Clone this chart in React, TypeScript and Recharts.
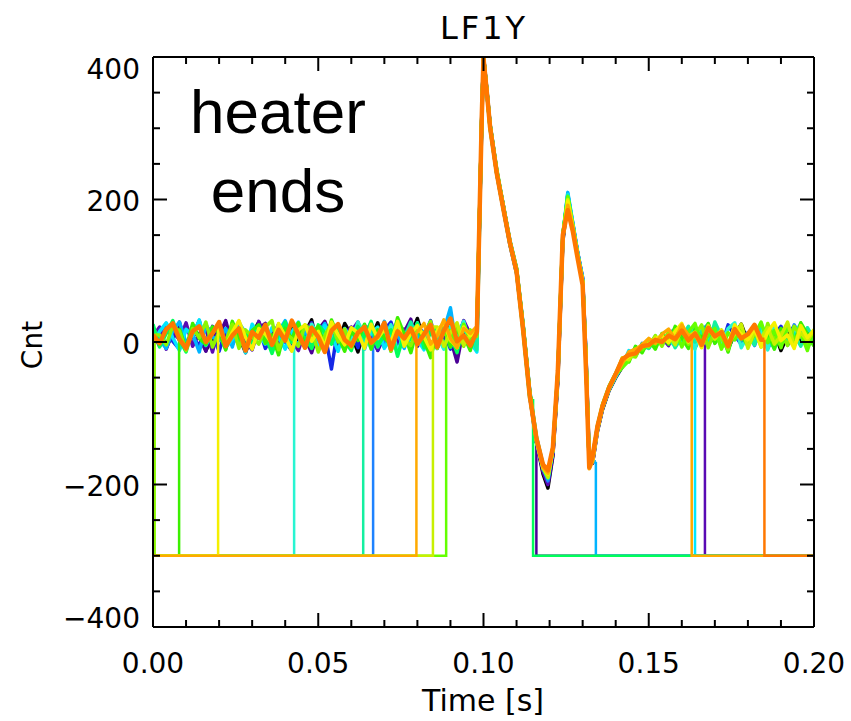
import { LineChart, Line, XAxis, YAxis } from 'recharts';

// sample times [s]: 2 ms steps, finer through the pulse
const times = [
  0, 0.002, 0.004, 0.006, 0.008, 0.010, 0.012, 0.014, 0.016, 0.018,
  0.020, 0.022, 0.024, 0.026, 0.028, 0.030, 0.032, 0.034, 0.036, 0.038,
  0.040, 0.042, 0.044, 0.046, 0.048, 0.050, 0.052, 0.054, 0.056, 0.058,
  0.060, 0.062, 0.064, 0.066, 0.068, 0.070, 0.072, 0.074, 0.076, 0.078,
  0.080, 0.082, 0.084, 0.086, 0.088, 0.090, 0.092, 0.094, 0.096, 0.098,
  0.0995, 0.1000, 0.1010, 0.1020, 0.1040, 0.1060, 0.1080, 0.1100, 0.1120, 0.1140,
  0.1160, 0.1180, 0.1195, 0.1210, 0.1225, 0.1240, 0.1255, 0.1270, 0.1285, 0.1300,
  0.1310, 0.1320, 0.1330, 0.1345, 0.1360, 0.1380, 0.1400,
  0.142, 0.144, 0.146, 0.148, 0.150, 0.152, 0.154, 0.156, 0.158, 0.160,
  0.162, 0.164, 0.166, 0.168, 0.170, 0.172, 0.174, 0.176, 0.178, 0.180,
  0.182, 0.184, 0.186, 0.188, 0.190, 0.192, 0.194, 0.196, 0.198, 0.200,
];

// value written outside a trace's recorded window
const FLAG = -300;

const blackVals = [
  5, 18, -8, 12, 25, -3, 9, 30, -12, 6, 15, -5, 22, 8, -15, 11, 28, 2, -9, 17,
  4, 24, -6, 13, 31, -10, 7, 19, -2, 26, 10, -14, 16, 5, 27, -7, 12, 21, -4, 9,
  33, 1, -11, 18, 6, 24, -8, 14, 3, 12,
  320, 402, 355, 305, 240, 192, 140, 102, 22, -70, -140, -185, -205, -160, -55, 140, 200, 165, 125, 88,
  -20, -165, -170, -125, -95, -68, -50,
  -35, -20, -18, -4, -8, 6, -2, 10, 2, 15, -6, 12, 20, -3, 8, 16, -10, 11, 25, 0,
  7, 19, -5, 14, -12, 9, 22, -1, 13, 4,
];
const indigoVals = [
  12, -6, 20, 3, 28, -9, 15, 7, -13, 22, 9, 30, -4, 16, 1, -11, 19, 26, -7, 10,
  13, -2, 24, 6, -15, 17, 29, 4, -8, 12, 21, -5, 11, 27, -12, 8, 18, -3, 14, 32,
  -6, 10, 23, -9, 15, 5, -28, 20, -1, 11,
  310, 398, 352, 300, 236, 186, 136, 96, 18, -76, -142,
];
const blueVals = [
  -4, 14, 26, 1, -10, 19, 8, -6, 23, 11, -13, 16, 4, 29, -2, 12, 20, -9, 7, 25,
  0, -12, 18, 9, 27, -5, 13, -38, 21, 6, 15, -8, 24, 3, -11, 17, 28, -1, 10, -7,
  19, 8, 30, -4, 13, -10, 22, 5, 16, -3,
  325, 400, 352, 304, 238, 190, 140, 100, 20, -74, -138, -178, -198, -155, -48, 145, 205, 162, 122, 84,
  -30, -175, -165, -120, -92, -66, -48,
  -30, -24, -10, -9, 2, -5, 8, -2, 14, 5, 20, -8, 11, 3, 17, -6, 24, 9, -3, 13,
  1, 18, -9, 10, 22, -4, 6, 15, -7, 11,
];
const violetVals = [
  8, 21, -10, 16, 3, 27, -6, 12, 19, -14, 24, 5, -2, 18, 10, -9, 29, 7, 14, -5,
  22, 1, -12, 17, 26, -3, 11, 20, 6, -8, 15, 28, -4, 9, -10, 23, 13, 2, 18, -6,
  25, 8, -13, 16, 4, 21, -2, 30, 11, 7,
  321, 402, 354, 304, 241, 190, 141, 102, 22, -72, -140, -182, -200, -158, -50, 143, 206, 167, 125, 90,
  -15, -165, -170, -124, -94, -67, -49,
  -34, -21, -12, -8, -1, 2, 6, -5, 16, 8, -3, 20, 12,
];
const dodgerVals = [
  14, -6, 21, 8, -3, 26, 11, -9, 17, 4, 23, -2, 12, 28, -5, 9,
  318, 400, 350, 302, 237, 188, 139, 99, 16, -77, -137, -176, -195, -150, -45, 148, 208, 163, 121, 85,
  -25, -172, -162, -118, -90, -64, -46,
  -28, -15, -20, -2, -6, 8, -4, 12, 18, 1, 9, -7, 16, 25, -1, 10, -9, 19, 4, 13,
  -5, 21, 7, -3, 15, 0, 24, 8, -8, 12,
];
const skyVals = [
  20, 3, -9, 16, 28, -1, 11, -14, 24, 7, 2, 19, -7, 27, 13, -4, 9, 22, -11, 15,
  30, 5, -3, 18, -8, 12, 26, 0, 14, -6, 8, 23, -10, 17, 4, 29, -2, 13, -9, 20,
  6, 15, -5, 11, 16, 48, -12, 25, 2, 9,
  322, 401, 356, 306, 242, 191, 143, 104, 25, -68, -132, -172, -192, -148, -42, 150, 210, 168, 126, 90,
  -18, -168, -168,
];
const cyanVals = [
  -2, 15, 27, 6, -12, 18, 9, 31, -5, 13, 22, -8, 4, 17, -15, 25, 10, -3, 20, 7,
  -10, 14, 28, 1, 16, -6, 23, 11, -13, 19, 5, 26, -4, 12, 21, -9, 8, 30, -1, 15,
  3, -11, 19, 10, 27, -7, 14, 22, 0, -14,
  316, 399, 349, 303, 239, 189, 141, 101, 19, -75, -136, -175, -190, -152, -46, 147, 207, 166, 124, 87,
  -22, -170, -163, -121, -93, -67, -49,
  -33, -12, -16, -10, 4, -7, 9, 0, 16, -4, 11, 20,
];
const turquoiseVals = [
  17, -6, 25, 9, -12, 21, 4, 14, -3, 28, 11, -9, 19, 6, 24, -14, 13, 2, 27, -5,
  16, 8, -10, 22, 3, 29, -7, 12,
  320, 400, 354, 301, 241, 187, 140, 100, 21, -73, -139, -177, -188, -153, -47, 146, 204, 164, 123, 86,
  -24, -171, -166, -122, -91, -65, -47,
  -26, -22, -8, -13, 1, -4, 11, 3, -6, 17, 8, -10, 23, 5, 14, -3, 19, 27, -8, 10,
  2, 16, -11, 21, 6, -2, 13, 25, -5, 9,
];
const aquaVals = [
  9, 24, -7, 15, -13, 20, 6, 28, -2, 11, 19, -9, 26, 3, -4, 17, 10, -11,
  319, 401, 351, 303, 238, 190, 138, 101, 17, -76, -138, -178, -191, -151, -44, 149, 206, 165, 122, 86,
  -23, -171, -164, -120, -92, -66, -47,
  -29, -17, -14, -5, -9, 5, -1, 13, -8, 7, 22, 0, 15, -6, 28, 8, -12, 18, 3, 11,
  -4, 25, 6, -9, 17, 1, 12, -6, 20, 5,
];
const springVals = [
  25, -7, 12, 30, 3, -14, 18, 8, -4, 21, 14, -10, 27, 2, 16, -5, 23, 9, -16, 11,
  28, -1, 15, 6, -9, 24, 13, -3, 19, 1, -12, 22, 7, 29, -6, 10, 17, -20, 12, 4,
  26, -8, 14, 20, -3, 9, -15, 24, 6, 13,
  318, 399, 350, 299, 236, 186, 137, 97, 14, -80,
];
const greenVals = [
  18, -9, 26, 5, -3, 21, 13, -11, 29, 7, -6, 16, 24, -2, 10, -18, 19, 4, 27, -8,
  12, 22, -5, 31, 8, -13, 15, 2, 25, -10, 17, 6, -4, 34, 11, -15, 20, 3, -22, 13,
  28, -7, 16, 9, -12, 22,
  321, 400, 353, 304, 240, 188, 141, 103, 23, -71, -134, -174, -186, -149, -43, 151, 203, 162, 120, 84,
  -27, -173, -160, -117, -88, -62, -44,
  -24, -28, -6, -15, 3, -10, 12, -3, 22, 6, -9, 18, 4, 26, -2, 13, -14, 20, 9, -5,
  24, 3, 15, -10, 19, 7, -3, 27, 11, -6,
];
const chartreuseVals = [
  10, -4, 23, 15, -12, 19, 6, 28, -7, 14, 2, 25, -9, 17, 8, -3, 21, 30, -11, 12,
  5, -6, 24, 16, -14, 9, 27, 0, 18, -8, 13, 22, -2, 7, 26, -13, 15, 4, -5, 20,
  11, 29, -9, 14, 1, 23, -6, 17, 8,
  323, 401, 354, 305, 243, 192, 142, 104, 24, -70, -133, -173, -185, -147, -40, 152, 202, 163, 121, 85,
  -26, -172, -161, -118, -89, -63, -45,
  -31, -19, -21, -3, -7, 9, -6, 14, 1, 20, -3, 10, 24, -8, 16, 5, -11, 21, 12, 0,
  18, -7, 26, 4, 13, -5, 22, 8, -2, 15,
];
const lawnVals = [
  16, -8, 25, 4, 11,
  320, 400, 352, 302, 239, 189, 140, 100, 20, -74, -137, -176, -189, -150, -45, 148, 204, 163, 122, 86,
  -24, -171, -163, -120, -91, -65, -46,
  -36, -26, -9, -11, -1, -3, 7, 2, 17, -7, 14, 26, -4, 9, 19, -10, 13, 3, 22, -6,
  10, 28, -1, 16, -8, 21, 5, 12, -12, 18,
];
const yellowGreenVals = [
  21, -6, 13, 27, -4, 10, 18,
  322, 400, 351, 303, 238, 190, 139, 101, 19, -74, -136, -175, -190, -151, -46, 147, 200, 164, 123, 86,
  -23, -170, -165, -121, -91, -65, -47,
  -22, -25, -12, -6, -5, 7, 1, 10, -4, 19, 8, 14, -7, 23, 4, 17, -2, 11, 25, -9,
  15, 6, 20, -3, 9, 28, -6, 13, 2, 16,
];
const yellowVals = [
  22, -5, 14, 30, 6, -10, 19, 11, -2, 26, 8, -13, 17, 24, 1, 15, -7, 28, 10, -4,
  20, 13, -9, 25, 5, 18, -1, 29, -6, 12, 23, 7, -11, 16, 27, 3, -8, 21, 9, 14,
  318, 399, 352, 300, 237, 188, 140, 98, 17, -76, -139, -177, -185, -152, -47, 146, 198, 160, 120, 84,
  -24, -172, -167, -123, -92, -66, -47,
  -27, -20, -14, -7, -2, 4, 9, -1, 15, 26, 0, 12, -8, 21, 7, 16, -5, 24, 11, 3,
  19, -7, 14, 27, 2, 10, -9, 23, 6, 17,
];
const goldVals = [
  14, 26, -3, 9, 31, 5, -8, 19, 12, 22,
  319, 400, 353, 302, 239, 189, 140, 100, 20, -74, -137, -176, -184, -150, -44, 148, 192, 161, 121, 85,
  -25, -178, -168, -122, -91, -65, -46,
  -30, -14, -10, -4, 5, -2, 11, 18, 4, 24, 9,
];
const orangeVals = [
  10, -2, 18, 26, 4, -9, 15, 22, 0, 12, 28, -6, 9, 19, -12, 14, 6, 24, -4, 17,
  2, 30, 11, -8, 20, 7, -14, 16, 25, 3, -5, 13, 21, -1, 8, 27, -10, 15, 5, 19,
  -3, 11, 24, -7, 16, 33, 1, 9, -5, 14,
  320, 398, 351, 301, 237, 187, 139, 99, 16, -76, -135, -172, -180, -148, -40, 150, 185, 156, 117, 80,
  -38, -176, -160, -118, -90, -64, -45,
  -24, -18, -16, -6, -4, 3, 0, 9, 4, 16, 2, 12, -4, 20, 8, 14, -6, 18, 5, 11,
  24, 3,
];

// start/end = times where a trace leaves / returns to the -300 flag level
const traces = [
  { key: 'black', color: '#000000', start: null, end: null, values: blackVals },
  { key: 'indigo', color: '#4b0096', start: null, end: 0.116, values: indigoVals },
  { key: 'blue', color: '#1428e6', start: null, end: null, values: blueVals },
  { key: 'violet', color: '#5a0ab4', start: null, end: 0.167, values: violetVals },
  { key: 'dodger', color: '#1e82ff', start: 0.0666, end: null, values: dodgerVals },
  { key: 'sky', color: '#00b4ff', start: null, end: 0.134, values: skyVals },
  { key: 'cyan', color: '#00e6ff', start: null, end: 0.164, values: cyanVals },
  { key: 'turquoise', color: '#28f5d2', start: 0.0427, end: null, values: turquoiseVals },
  { key: 'aqua', color: '#14f0a0', start: 0.0636, end: null, values: aquaVals },
  { key: 'spring', color: '#00ff5a', start: null, end: 0.115, values: springVals },
  { key: 'green', color: '#3cf000', start: 0.0079, end: null, values: greenVals },
  { key: 'chartreuse', color: '#8cf500', start: 0.0005, end: null, values: chartreuseVals },
  { key: 'lawn', color: '#64ff00', start: 0.0887, end: null, values: lawnVals },
  { key: 'yellowgreen', color: '#c8f000', start: 0.0847, end: null, values: yellowGreenVals },
  { key: 'yellow', color: '#f5f000', start: 0.0197, end: null, values: yellowVals },
  { key: 'gold', color: '#ffaa00', start: 0.0797, end: 0.163, values: goldVals },
  { key: 'orange', color: '#ff7800', start: null, end: 0.185, values: orangeVals },
];

const xTicks = [
  0, 0.01, 0.02, 0.03, 0.04, 0.05, 0.06, 0.07, 0.08, 0.09, 0.1,
  0.11, 0.12, 0.13, 0.14, 0.15, 0.16, 0.17, 0.18, 0.19, 0.2,
];
const xMajor = [0, 0.05, 0.1, 0.15, 0.2];
const yTicks = [-400, -350, -300, -250, -200, -150, -100, -50, 0, 50, 100, 150, 200, 250, 300, 350, 400];
const yMajor = [-400, -200, 0, 200, 400];

type Pt = { t: number; v: number | null };

// recorded part of a trace, laid on the shared sample times
const buildData = (tr: any) => {
  const pts: Pt[] = [];
  let i0 = 0;
  if (tr.start != null) {
    while (i0 < times.length && times[i0] < tr.start) i0++;
    pts.push({ t: tr.start, v: tr.values[0] });
  }
  for (let k = 0; k < tr.values.length; k++) {
    const t = times[i0 + k];
    if (t === undefined) break;
    if (tr.end != null && t > tr.end) break;
    pts.push({ t, v: tr.values[k] });
  }
  if (tr.end != null) pts.push({ t: tr.end, v: pts[pts.length - 1].v });
  return pts;
};

// the flat -300 stretches before start / after end, with their vertical jumps
const buildFlag = (tr: any, data: Pt[]) => {
  const pts: Pt[] = [];
  if (tr.start != null) {
    pts.push({ t: 0, v: FLAG }, { t: tr.start, v: FLAG }, { t: tr.start, v: data[0].v });
  }
  if (tr.end != null) {
    if (pts.length) pts.push({ t: (tr.start + tr.end) / 2, v: null });
    pts.push({ t: tr.end, v: data[data.length - 1].v }, { t: tr.end, v: FLAG }, { t: 0.2, v: FLAG });
  }
  return pts;
};

const TICK_FONT = '"DejaVu Sans", sans-serif';
const isIn = (list: number[], v: number) => list.some(m => Math.abs(m - v) < 1e-9);
const yLabel = (v: number) => (v < 0 ? '\u2212' + Math.abs(v) : String(v));

const BottomTick = ({ x, y, payload }: any) => {
  const major = isIn(xMajor, payload.value);
  return (
    <g>
      <line x1={x} y1={y} x2={x} y2={y - (major ? 14 : 7)} stroke="#000" strokeWidth={2} />
      {major && (
        <text x={x} y={y + 36} textAnchor="middle" dominantBaseline="central"
          fontFamily={TICK_FONT} fontSize={28} fill="#000">
          {payload.value.toFixed(2)}
        </text>
      )}
    </g>
  );
};

const TopTick = ({ x, y, payload }: any) => {
  const major = isIn(xMajor, payload.value);
  return <line x1={x} y1={y} x2={x} y2={y + (major ? 14 : 7)} stroke="#000" strokeWidth={2} />;
};

const LeftTick = ({ x, y, payload }: any) => {
  const v = payload.value;
  const major = isIn(yMajor, v);
  const dy = v === 400 ? 12 : v === -400 ? -9 : 2;
  return (
    <g>
      <line x1={x} y1={y} x2={x + (major ? 14 : 7)} y2={y} stroke="#000" strokeWidth={2} />
      {major && (
        <text x={x - 13} y={y + dy} textAnchor="end" dominantBaseline="central"
          fontFamily={TICK_FONT} fontSize={28} fill="#000">
          {yLabel(v)}
        </text>
      )}
    </g>
  );
};

const RightTick = ({ x, y, payload }: any) => {
  const major = isIn(yMajor, payload.value);
  return <line x1={x} y1={y} x2={x - (major ? 14 : 7)} y2={y} stroke="#000" strokeWidth={2} />;
};

export default function App() {
  const axisLine = { stroke: '#000', strokeWidth: 2 };
  const lines: any[] = [];
  traces.forEach(tr => {
    const data = buildData(tr);
    const flag = buildFlag(tr, data);
    if (flag.length) {
      lines.push(
        <Line key={tr.key + '-flag'} xAxisId="bottom" yAxisId="left" data={flag} dataKey="v"
          type="linear" stroke={tr.color} strokeWidth={2.5} connectNulls={false}
          dot={false} activeDot={false} isAnimationActive={false} />
      );
    }
    lines.push(
      <Line key={tr.key} xAxisId="bottom" yAxisId="left" data={data} dataKey="v"
        type="linear" stroke={tr.color} strokeWidth={tr.key === 'orange' ? 4.5 : 3.5}
        strokeLinejoin="round" dot={false} activeDot={false} isAnimationActive={false} />
    );
  });
  return (
    <div style={{ position: 'absolute', left: 0, top: 0, width: 851, height: 721, background: '#fff' }}>
      <LineChart width={851} height={721} margin={{ top: 47, right: 27, bottom: 54, left: 93 }}>
        <XAxis xAxisId="bottom" type="number" dataKey="t" domain={[0, 0.2]} ticks={xTicks} interval={0}
          allowDataOverflow height={40} tickSize={0} tickMargin={0} tickLine={false}
          axisLine={axisLine} tick={(p: any) => <BottomTick {...p} />} />
        <XAxis xAxisId="top" orientation="top" type="number" dataKey="t" domain={[0, 0.2]} ticks={xTicks}
          interval={0} allowDataOverflow height={10} tickSize={0} tickMargin={0} tickLine={false}
          axisLine={axisLine} tick={(p: any) => <TopTick {...p} />} />
        <YAxis yAxisId="left" type="number" domain={[-400, 400]} ticks={yTicks} interval={0}
          allowDataOverflow width={60} tickSize={0} tickMargin={0} tickLine={false}
          axisLine={axisLine} tick={(p: any) => <LeftTick {...p} />} />
        <YAxis yAxisId="right" orientation="right" type="number" domain={[-400, 400]} ticks={yTicks}
          interval={0} allowDataOverflow width={10} tickSize={0} tickMargin={0} tickLine={false}
          axisLine={axisLine} tick={(p: any) => <RightTick {...p} />} />
        {lines}
      </LineChart>
      <svg width={851} height={721} style={{ position: 'absolute', left: 0, top: 0, pointerEvents: 'none' }}>
        <text x={484} y={28} textAnchor="middle" dominantBaseline="central" fontFamily={TICK_FONT}
          fontSize={32} letterSpacing={3} fill="#000">LF1Y</text>
        <text x={483} y={711} textAnchor="middle" fontFamily={TICK_FONT} fontSize={30} fill="#000">Time [s]</text>
        <text x={32} y={345} textAnchor="middle" dominantBaseline="central" fontFamily={TICK_FONT}
          fontSize={28} fill="#000" transform="rotate(-90 32 345)">Cnt</text>
        <text x={278} y={133} textAnchor="middle" fontFamily='"Liberation Sans", Arial, sans-serif'
          fontSize={62} fill="#000">heater</text>
        <text x={278} y={212} textAnchor="middle" fontFamily='"Liberation Sans", Arial, sans-serif'
          fontSize={62} fill="#000">ends</text>
      </svg>
    </div>
  );
}
